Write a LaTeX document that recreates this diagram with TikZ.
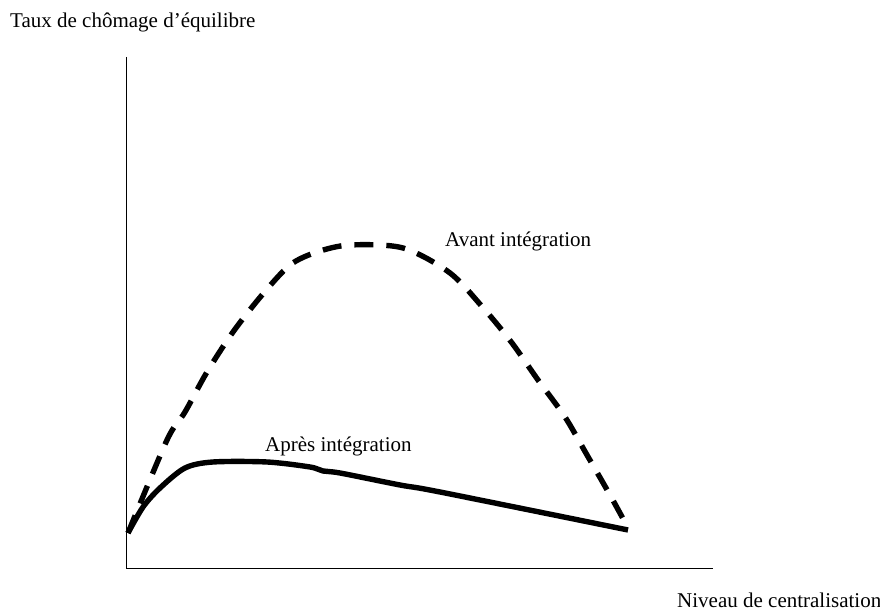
\documentclass[tikz,border=0pt]{standalone}
\usepackage{fontspec}
\setmainfont{Liberation Serif}
\usepackage{tikz}

\tikzset{
  lbl/.style={anchor=base west,inner sep=0pt,font=\fontsize{21}{25}\selectfont},
  axe/.style={line width=0.9pt},
  courbe/.style={line width=5.4pt,line join=round},
  tirets/.style={courbe,dash pattern=on 19pt off 13pt}
}

\begin{document}
\begin{tikzpicture}[x=1pt,y=1pt]%[line cap=round,line join=round]
\useasboundingbox (0,0) rectangle (880,612);
\coordinate (origine) at (126,44);
\coordinate (ytop) at (126,555);
\coordinate (xfin) at (713,44);
\draw [axe] (ytop) -- (origine) -- (xfin);
\node [lbl] (ylabel) at (10,584) {Taux de chômage d’équilibre};
\node [lbl] (xlabel) at (677,4) {Niveau de centralisation};
\node [lbl] (avant) at (445,365) {Avant intégration};
\node [lbl] (apres) at (265,160) {Après intégration};
\draw [tirets] plot[smooth,tension=0.5] coordinates {(128,79) (167,172) (185,200) (207,240) (233,280) (262,317) (290,347) (317,360) (350,367) (403,364) (450,339) (485,302) (512,269) (538,232) (565,195) (587,157) (610,117) (627,86)};
\draw [courbe] plot[smooth,tension=0.5] coordinates {(128,79) (143,105) (160,124) (185,144) (213,150) (267,150) (310,145) (323,141) (340,139) (400,127) (440,120) (628,82)};
\end{tikzpicture}
\end{document}
